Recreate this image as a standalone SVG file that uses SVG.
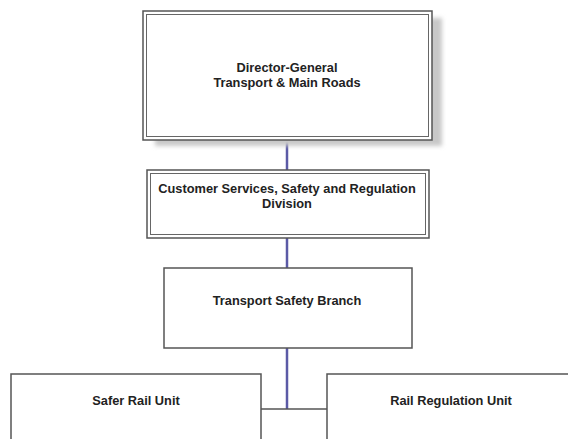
<svg xmlns="http://www.w3.org/2000/svg" width="568" height="439" viewBox="0 0 568 439">
<defs>
<style>
.box{fill:#fff;stroke:#555;stroke-width:1.5}
.inner{fill:none;stroke:#666;stroke-width:1}
.t{font-family:"Liberation Sans",Arial,sans-serif;font-size:12.8px;font-weight:bold;fill:#222;text-anchor:middle}
.conn{stroke:#5b5aa6;stroke-width:2.5;fill:none}
.hconn{stroke:#555;stroke-width:1.5;fill:none}
</style>
<filter id="blur" x="-10%" y="-10%" width="120%" height="130%"><feGaussianBlur stdDeviation="2"/></filter>
</defs>
<rect width="568" height="439" fill="#fff"/>
<g id="connectors">
<line class="conn" x1="287" y1="140" x2="287" y2="170"/>
<line class="conn" x1="287" y1="238" x2="287" y2="268"/>
<line class="conn" x1="287" y1="348" x2="287" y2="409"/>
<line class="hconn" x1="261" y1="409" x2="327" y2="409"/>
</g>
<g id="director-general">
<rect x="155" y="18" width="287" height="128" fill="#c8c8c8" filter="url(#blur)"/>
<rect class="box" x="143" y="11" width="289" height="129"/>
<rect class="inner" x="146.5" y="14.5" width="282" height="122"/>
<text class="t" x="287" y="72">Director-General</text>
<text class="t" x="287" y="87">Transport &amp; Main Roads</text>
</g>
<g id="division">
<rect class="box" x="147" y="170" width="282" height="68"/>
<rect class="inner" x="150.5" y="173.5" width="275" height="61"/>
<text class="t" x="287" y="193">Customer Services, Safety and Regulation</text>
<text class="t" x="287" y="208">Division</text>
</g>
<g id="branch">
<rect class="box" x="164" y="268" width="248" height="80"/>
<text class="t" x="287" y="305">Transport Safety Branch</text>
</g>
<g id="safer-rail">
<rect class="box" x="11" y="374" width="250" height="80"/>
<text class="t" x="136" y="405">Safer Rail Unit</text>
</g>
<g id="rail-regulation">
<rect class="box" x="327" y="374" width="260" height="80"/>
<text class="t" x="451" y="405">Rail Regulation Unit</text>
</g>
</svg>
